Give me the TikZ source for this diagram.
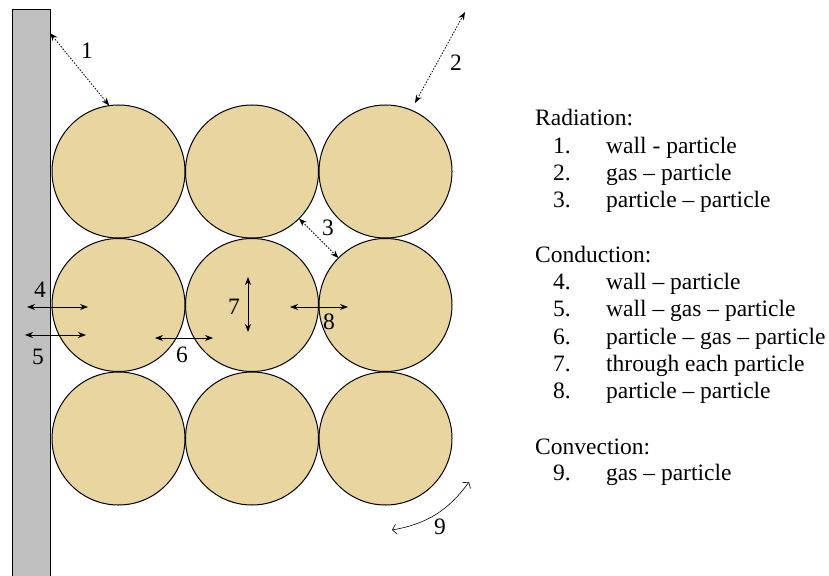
\documentclass[tikz,border=0pt]{standalone}
\usepackage{fontspec}
\setmainfont{Liberation Serif}
\usetikzlibrary{arrows.meta}
\definecolor{papyrus}{RGB}{232,213,160}
\definecolor{wallgray}{RGB}{192,192,192}

\tikzset{
  particle/.style={circle, draw, line width=1pt, fill=papyrus,
                   minimum size=133pt, inner sep=0pt, outer sep=0pt},
  wallbox/.style={rectangle, draw, line width=1pt, fill=wallgray,
                  minimum width=38pt, minimum height=570pt,
                  inner sep=0pt, outer sep=0pt, anchor=north west},
  radarrow/.style={dash pattern=on 1.5pt off 1.5pt, line width=0.8pt,
                   {Stealth[length=8pt,width=6pt]}-{Stealth[length=8pt,width=6pt]}},
  condarrow/.style={line width=0.8pt,
                    {Stealth[length=8pt,width=6pt]}-{Stealth[length=8pt,width=6pt]}},
  convarrow/.style={line width=0.6pt,
                    {Straight Barb[length=4pt,width=10pt]}-{Straight Barb[length=4pt,width=10pt]}},
  numlabel/.style={inner sep=0pt, font=\fontsize{23.5}{27}\selectfont},
  legendtext/.style={anchor=base west, inner sep=0pt, font=\fontsize{23.5}{27}\selectfont}
}

\begin{document}
\begin{tikzpicture}[x=1pt, y=-1pt]
  \useasboundingbox (0,0) rectangle (829,575);

  % wall and particle bed
  \node[wallbox] (wall) at (12,10) {};
  \foreach \r in {1,2,3}
    \foreach \c in {1,2,3}
      \node[particle] (p\r\c) at ({118.5+133.5*(\c-1)}, {171.5+133.5*(\r-1)}) {};

  % end points of the heat paths
  \coordinate (r1) at (50,33);
  \coordinate (r2) at (465,12);
  \coordinate (r2p) at (415,103);
  \coordinate (c4w) at (27,307);
  \coordinate (c4p) at (88,307);
  \coordinate (c5w) at (25,335);
  \coordinate (c5p) at (86,335);
  \coordinate (c6a) at (155,338);
  \coordinate (c6b) at (213,338);
  \coordinate (c7a) at (248,277);
  \coordinate (c7b) at (248,332);
  \coordinate (c8a) at (290,307);
  \coordinate (c8b) at (348,307);
  \coordinate (v9a) at (392,530);
  \coordinate (v9b) at (469,482);

  % radiation
  \draw[radarrow] (r1) -- (p11.98);
  \draw[radarrow] (r2p) -- (r2);
  \draw[radarrow] (p12.-45) -- (p23.135);
  % conduction
  \draw[condarrow] (c4w) -- (c4p);
  \draw[condarrow] (c5w) -- (c5p);
  \draw[condarrow] (c6a) -- (c6b);
  \draw[condarrow] (c7a) -- (c7b);
  \draw[condarrow] (c8a) -- (c8b);
  % convection
  \draw[convarrow] (v9a) to[bend right=22] (v9b);

  % path numbers
  \node[numlabel] (l1) at (87,51) {1};
  \node[numlabel] (l2) at (456,63) {2};
  \node[numlabel] (l3) at (328,228) {3};
  \node[numlabel] (l4) at (40,290) {4};
  \node[numlabel] (l5) at (38,357) {5};
  \node[numlabel] (l6) at (182,355) {6};
  \node[numlabel] (l7) at (234,307) {7};
  \node[numlabel] (l8) at (329,322) {8};
  \node[numlabel] (l9) at (440,527) {9};

  % legend
  \foreach \y/\name in {125/Radiation, 262/Conduction, 454/Convection}
    \node[legendtext] (h\name) at (535,\y) {\name:};
  \foreach \n/\y/\txt in {1/153/wall - particle, 2/180/gas -- particle,
      3/207/particle -- particle, 4/289/wall -- particle,
      5/316/wall -- gas -- particle, 6/344/particle -- gas -- particle,
      7/371/through each particle, 8/398/particle -- particle,
      9/480/gas -- particle} {
    \node[legendtext] (n\n) at (553,\y) {\n.};
    \node[legendtext] (t\n) at (606,\y) {\txt};
  }
\end{tikzpicture}
\end{document}
